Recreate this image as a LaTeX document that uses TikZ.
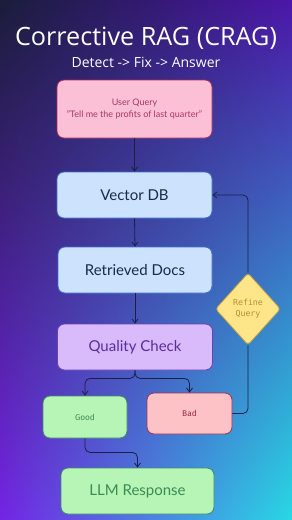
\documentclass[tikz,border=0pt]{standalone}
\usepackage{fontspec}
\setmainfont{Lato}
\newfontfamily\titlefont{Open Sans}
\newfontfamily\codefont{DejaVu Sans Mono}
\newfontfamily\handfont{Fira Sans}
\usetikzlibrary{shapes.geometric,arrows.meta,shadings}
\definecolor{bgTL}{HTML}{1A1D3A}
\definecolor{bgTR}{HTML}{4C16A8}
\definecolor{bgBL}{HTML}{7424E4}
\definecolor{bgBR}{HTML}{28D8E4}
\definecolor{navyline}{HTML}{1A1F4A}
\definecolor{uqfill}{HTML}{FCC0D6}
\definecolor{uqdraw}{HTML}{B02A5A}
\definecolor{uqtext}{HTML}{A8385A}
\definecolor{bluefill}{HTML}{CCE2FD}
\definecolor{bluedraw}{HTML}{3D6FD0}
\definecolor{bluetext}{HTML}{1A2A4A}
\definecolor{qcfill}{HTML}{D9BBFB}
\definecolor{qcdraw}{HTML}{6A3FB8}
\definecolor{qctext}{HTML}{5A2D9C}
\definecolor{greenfill}{HTML}{B6F5B6}
\definecolor{greendraw}{HTML}{3E8A6A}
\definecolor{greentext}{HTML}{3D8A55}
\definecolor{badfill}{HTML}{FCC2C6}
\definecolor{baddraw}{HTML}{A33050}
\definecolor{badtext}{HTML}{9A2C44}
\definecolor{yelfill}{HTML}{FDE68A}
\definecolor{yeldraw}{HTML}{C8A040}
\definecolor{yeltext}{HTML}{B8902C}
\begin{document}
\begin{tikzpicture}[x=1pt,y=-1pt,
  box/.style={draw, rounded corners=7pt, line width=0.8pt, minimum width=155pt, minimum height=46pt, inner sep=0pt, align=center, font=\fontsize{15}{17}\selectfont},
  smallbox/.style={draw, rounded corners=7pt, line width=0.8pt, minimum width=84pt, minimum height=42pt, inner sep=0pt, font=\handfont\fontsize{8.3}{10}\selectfont},
  arr/.style={-{Straight Barb[length=4pt,width=6pt]}, draw=navyline, line width=0.8pt, rounded corners=5pt},
  plainline/.style={draw=navyline, line width=0.8pt, rounded corners=5pt}]
\shade[shading=bilinear interpolation, upper left=bgTL, upper right=bgTR, lower left=bgBL, lower right=bgBR] (0,0) rectangle (292,520);
\useasboundingbox (0,0) rectangle (292,520);
\node[text=white, font=\titlefont\fontsize{25.2}{29}\selectfont] (title) at (146,38) {Corrective RAG (CRAG)};
\node[text=white, font=\titlefont\fontsize{14}{16}\selectfont] (subtitle) at (146,62) {Detect -> Fix -> Answer};
\node[box, fill=uqfill, draw=uqdraw, text=uqtext, minimum height=58pt, font=\fontsize{9}{12.5}\selectfont] (uq) at (134.5,109) {User Query\\"Tell me the profits of last quarter"};
\node[box, fill=bluefill, draw=bluedraw, text=bluetext] (vdb) at (134.5,195) {Vector DB};
\node[box, fill=bluefill, draw=bluedraw, text=bluetext, minimum width=154pt] (rd) at (135,270) {Retrieved Docs};
\node[box, fill=qcfill, draw=qcdraw, text=qctext] (qc) at (135,347) {Quality Check};
\node[smallbox, fill=greenfill, draw=greendraw, text=greentext] (good) at (85,417) {Good};
\node[smallbox, fill=badfill, draw=baddraw, text=badtext, minimum width=85pt, minimum height=41pt] (bad) at (189.5,413.5) {Bad};
\node[box, fill=greenfill, draw=greendraw, text=greentext, minimum width=153pt] (llm) at (137.5,491) {LLM Response};
\node[diamond, draw=yeldraw, fill=yelfill, line width=0.8pt, rounded corners=3pt, minimum width=65pt, minimum height=72pt, inner sep=0pt, align=center, text=yeltext, font=\codefont\fontsize{8.3}{11}\selectfont] (refine) at (248,309) {Refine\\Query};
\draw[arr] (uq.south) -- (vdb.north);
\draw[arr] (vdb.south) -- (rd.north);
\draw[arr] (rd.south) -- (qc.north);
\draw[arr] (qc.south) -- ++(0,8) -| (good.north);
\draw[arr] (qc.south) -- ++(0,8) -| (bad.north);
\draw[arr] (good.south) -- ++(0,14) -| (llm.north);
\draw[plainline] (bad.east) -- (refine.south |- bad.east) -- (refine.south);
\draw[arr] (refine.north) -- (refine.north |- vdb.east) -- (vdb.east);
\end{tikzpicture}
\end{document}
